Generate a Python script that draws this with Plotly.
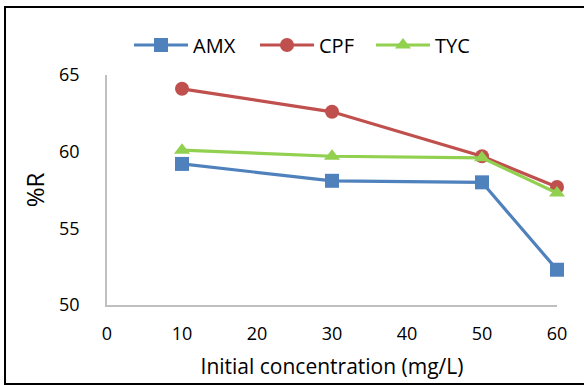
import plotly.graph_objects as go

# Initial concentration (mg/L)
concentration = [10, 30, 50, 60]

# Removal percentage (%R) for each antibiotic
amx = [59.2, 58.1, 58.0, 52.3]
cpf = [64.1, 62.6, 59.7, 57.7]
tyc = [60.1, 59.7, 59.6, 57.3]

x_ticks = [0, 10, 20, 30, 40, 50, 60]
y_ticks = [50, 55, 60, 65]

FONT = "Open Sans"

series = [
    ("AMX", amx, "#4F81BD", "square", "legend"),
    ("CPF", cpf, "#C0504D", "circle", "legend2"),
    ("TYC", tyc, "#92D050", "triangle-up", "legend3"),
]

fig = go.Figure()
for name, vals, color, symbol, leg in series:
    fig.add_trace(go.Scatter(
        x=concentration, y=vals, name=name, mode="lines+markers",
        line=dict(color=color, width=3.2),
        marker=dict(symbol=symbol, size=14, color=color, line=dict(width=0)),
        cliponaxis=False, legend=leg,
    ))

W, H = 584, 386
L, R, T, B = 107, 27, 75, 81
pw, ph = W - L - R, H - T - B

def px(xp):
    return (xp - L) / pw

def py(yp):
    return 1 - (yp - T) / ph

def legend_at(xpix):
    return dict(
        orientation="h", x=px(xpix), y=py(45), xanchor="left", yanchor="middle",
        font=dict(size=20, family=FONT), itemwidth=54,
        bgcolor="rgba(0,0,0,0)",
    )

fig.update_layout(
    width=W, height=H,
    margin=dict(l=L, r=R, t=T, b=B),
    paper_bgcolor="white", plot_bgcolor="white",
    font=dict(family=FONT, color="#000000", size=18),
    showlegend=True,
    legend=legend_at(129),
    legend2=legend_at(255),
    legend3=legend_at(371),
    xaxis=dict(
        range=[0, 60], tickvals=x_ticks, showgrid=False, zeroline=False,
        showline=True, linecolor="#BFBFBF", linewidth=1.5,
        ticks="outside", ticklen=12, tickcolor="rgba(0,0,0,0)",
        tickfont=dict(size=18),
        title=dict(text="Initial concentration (mg/L)", font=dict(size=21), standoff=15),
    ),
    yaxis=dict(
        range=[50, 65], tickvals=y_ticks, showgrid=False, zeroline=False,
        showline=True, linecolor="#BFBFBF", linewidth=1.5,
        ticks="outside", ticklen=22, tickcolor="rgba(0,0,0,0)",
        tickfont=dict(size=18),
        title=dict(text="%R", font=dict(size=24), standoff=8),
    ),
    shapes=[
        dict(type="rect", xref="paper", yref="paper",
             x0=px(5), x1=px(620), y0=py(384), y1=py(7),
             line=dict(color="#000000", width=2), layer="above"),
    ],
)

fig.write_html("out.html")
